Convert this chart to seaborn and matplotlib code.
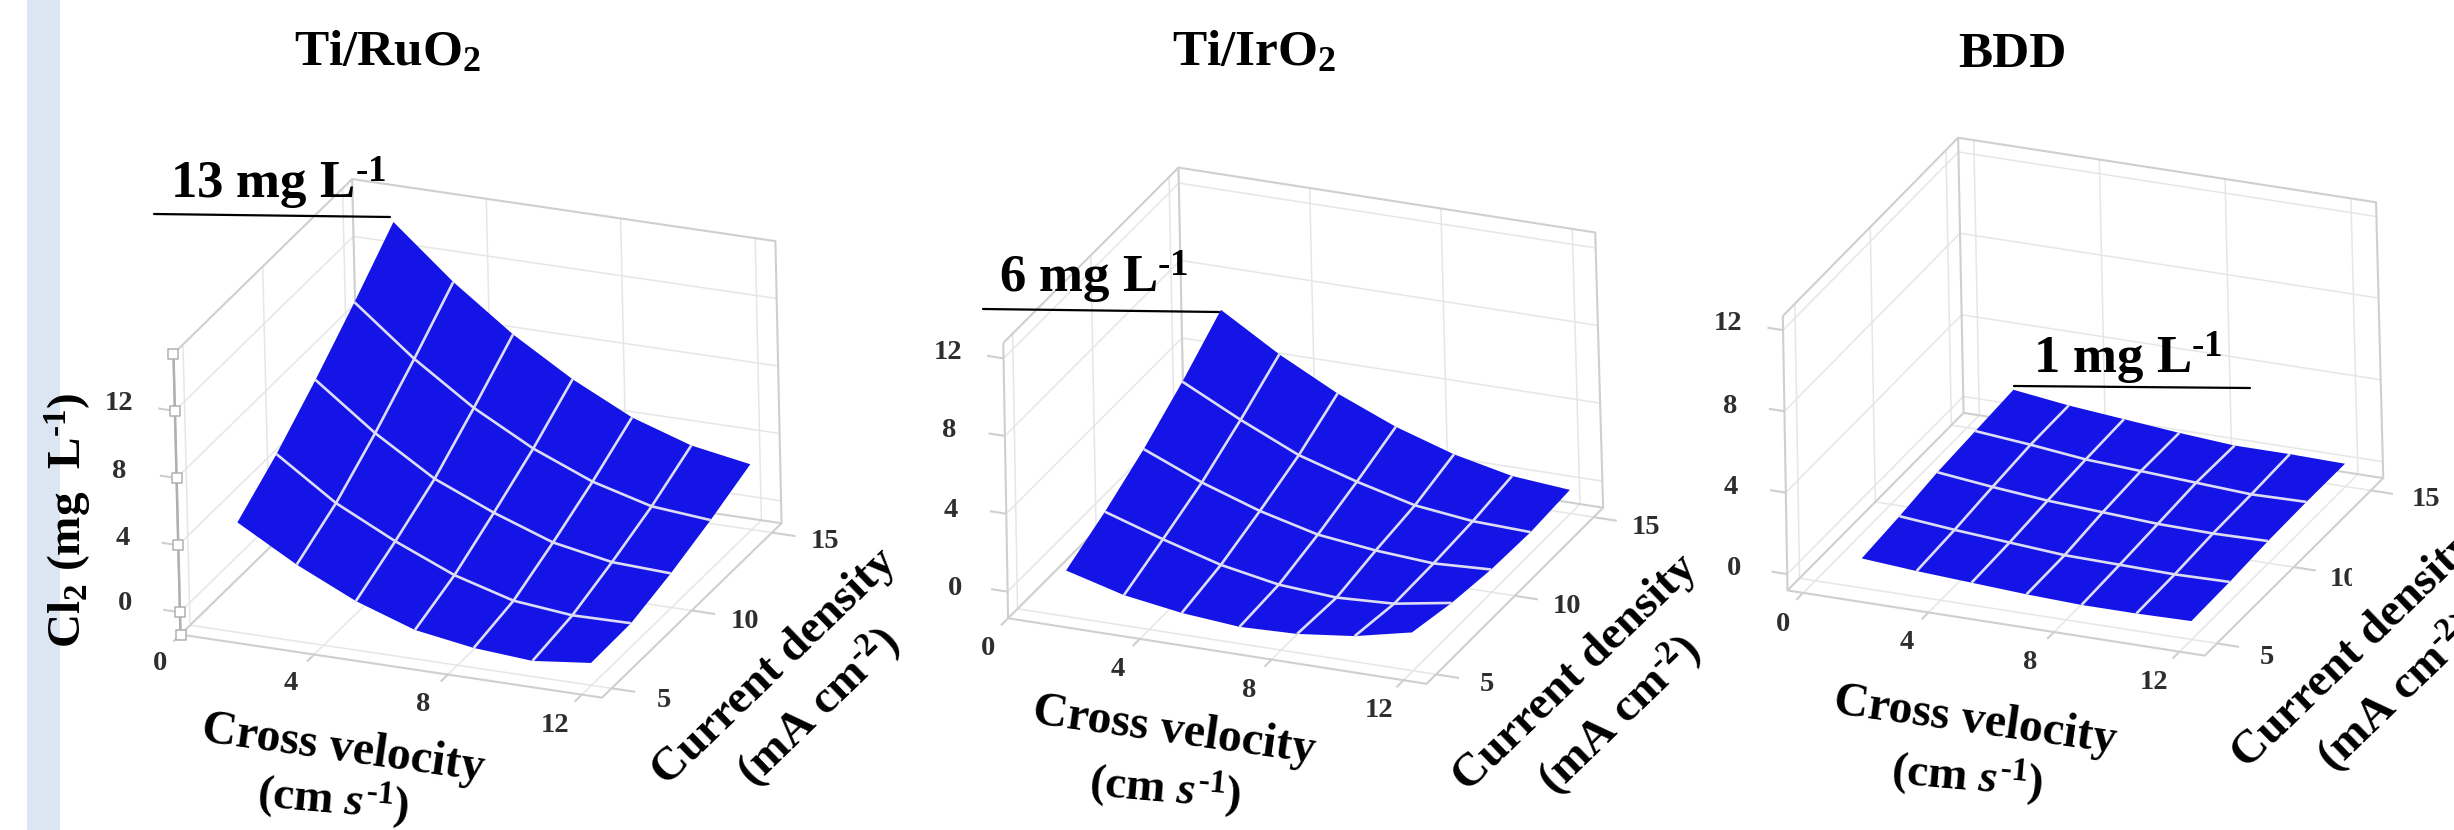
import numpy as np
import matplotlib
matplotlib.use('Agg')
import matplotlib.pyplot as plt
import seaborn as sns
from mpl_toolkits.mplot3d.art3d import Line3DCollection

# ---------- data ----------
velocity = [1.5, 3.25, 5, 6.75, 8.5, 10.25, 12]
current = [5, 7.5, 10, 12.5, 15]

# rows = current density, columns = cross velocity
cl2_ruo2 = [[5.25, 3.25, 1.6, 0.4, -0.15, -0.4, 0.0],
            [7.0, 4.6, 2.85, 1.35, 0.35, 0.0, 0.05],
            [9.1, 6.45, 4.25, 2.75, 1.5, 0.85, 0.7],
            [11.4, 8.55, 6.15, 4.25, 2.8, 1.85, 1.55],
            [13.85, 10.8, 8.2, 6.05, 4.3, 3.15, 2.55]]
cl2_iro2 = [[1.0, 0.2, -0.25, -0.5, -0.4, -0.05, 0.6],
            [2.0, 1.05, 0.2, -0.35, -0.55, -0.4, 0.1],
            [3.2, 1.95, 0.95, 0.2, -0.15, -0.35, -0.2],
            [4.65, 3.15, 1.8, 0.9, 0.15, -0.2, -0.3],
            [6.33, 4.5, 2.95, 1.7, 0.75, 0.1, -0.15]]
cl2_bdd = [[0.65, 0.45, 0.3, 0.15, 0.05, 0.05, 0.1],
           [0.85, 0.6, 0.4, 0.2, 0.15, 0.1, 0.15],
           [1.13, 0.83, 0.58, 0.43, 0.28, 0.23, 0.28],
           [1.27, 1.02, 0.72, 0.57, 0.42, 0.27, 0.32],
           [1.41, 1.06, 0.81, 0.56, 0.36, 0.36, 0.31]]

x_ticks = [0, 4, 8, 12]
y_ticks = [5, 10, 15]
z_ticks = [0, 4, 8, 12]

# ---------- layout ----------
W, H = 2454, 830
BLUE = '#1414e6'
EDGE = '#dcdcf5'
BOX = '#cfcfcf'
GRID = '#e6e6e6'
TICKTXT = '#2e2e2e'

sns.set_theme(style='white', rc={'axes.grid': False})
plt.rcParams['font.family'] = ['Liberation Serif', 'DejaVu Serif']
plt.rcParams['font.weight'] = 'bold'
plt.rcParams['mathtext.fontset'] = 'custom'
plt.rcParams['mathtext.rm'] = 'Liberation Serif:bold'
plt.rcParams['mathtext.bf'] = 'Liberation Serif:bold'
plt.rcParams['mathtext.it'] = 'Liberation Serif:italic:bold'
plt.rcParams['mathtext.default'] = 'rm'

panels = [
    dict(z=cl2_ruo2, title=r'Ti/RuO$_{2}$', title_xy=(388, 53),
         xlim=(0, 12.6), ylim=(4.4, 15.6), zlim=(-1.33, 15.4),
         # box corners in picture pixels: floor front left, top front left, top back left,
         # top back right, floor back right, floor front right, floor back left
         px=[(181, 633), (173, 354), (353, 178), (775, 242), (782, 521), (602, 699), (358, 463)],
         rect=(100, 100), markers=True,
         note=r'13 mg L$^{\text{-1}}$', note_xy=(278, 183), rule=((154, 214), (390, 217)),
         zpos=[(125, 603), (123, 538), (119, 471), (119, 403)],
         xpos=[(160, 663), (291, 683), (423, 704), (555, 725)],
         ypos=[(664, 700), (745, 621), (825, 541)],
         cv=(343, 749), cm=(333, 800), cd=(775, 667), ma=(818, 707)),
    dict(z=cl2_iro2, title=r'Ti/IrO$_{2}$', title_xy=(1254, 53),
         xlim=(0, 12.7), ylim=(4.4, 15.6), zlim=(-1.36, 12.8),
         px=[(1010, 619), (1002, 342), (1180, 168), (1595, 233), (1604, 507), (1426, 684), (1182, 442)],
         rect=(960, 60), markers=False,
         note=r'6 mg L$^{\text{-1}}$', note_xy=(1094, 277), rule=((983, 309), (1219, 312)),
         zpos=[(955, 588), (951, 510), (949, 430), (948, 352)],
         xpos=[(988, 648), (1118, 669), (1249, 690), (1379, 710)],
         ypos=[(1487, 684), (1567, 606), (1646, 527)],
         cv=(1174, 731), cm=(1165, 789), cd=(1576, 673), ma=(1619, 715)),
    dict(z=cl2_bdd, title='BDD', title_xy=(2012, 55),
         xlim=(-0.5, 12.8), ylim=(4.2, 15.8), zlim=(-0.8, 12.7),
         px=[(1789, 591), (1782, 315), (1959, 138), (2376, 203), (2384, 477), (2204, 656), (1962, 413)],
         rect=(1740, 60), markers=False,
         note=r'1 mg L$^{\text{-1}}$', note_xy=(2128, 358), rule=((2014, 386), (2250, 388)),
         zpos=[(1734, 568), (1731, 487), (1730, 406), (1728, 323)],
         xpos=[(1783, 624), (1907, 642), (2030, 662), (2154, 682)],
         ypos=[(2267, 657), (2344, 579), (2426, 499)],
         cv=(1975, 721), cm=(1967, 777), cd=(2355, 650), ma=(2398, 692)),
]


def fit_projection(corners_3d, corners_px):
    # least squares homography, box corners -> display pixels
    rows = []
    for (x, y, z), (u, v) in zip(corners_3d, corners_px):
        u, v = u / 1000, (H - v) / 1000
        p = [x / 10, y / 10, z / 10, 1]
        rows.append(p + [0, 0, 0, 0] + [-u * c for c in p])
        rows.append([0, 0, 0, 0] + p + [-v * c for c in p])
    P = np.linalg.svd(np.array(rows))[2][-1].reshape(3, 4)
    P = P / P[2, 3]
    P = P @ np.diag([0.1, 0.1, 0.1, 1])
    P[:2] *= 1000
    return P


def use_projection(ax, P):
    # mplot3d asks get_proj for its matrix, hand it the fitted one
    # depth has to stay negative or points get masked as behind the camera
    ax.apply_aspect()
    T = ax.transData.inverted().get_matrix()
    P2 = T @ P
    M = np.vstack([P2[0], P2[1], [0.001, 0.05, -0.02, -1.5], P2[2]])
    ax.get_proj = lambda: M


def path(xs, ys, zs):
    return np.column_stack([xs, ys, zs])


fig = plt.figure(figsize=(W / 100, H / 100), dpi=100, facecolor='white')

for p in panels:
    x0, x1 = p['xlim']
    y0, y1 = p['ylim']
    z0, z1 = p['zlim']
    side = 700
    ax = fig.add_axes([p['rect'][0] / W, 1 - (p['rect'][1] + side) / H, side / W, side / H],
                      projection='3d', computed_zorder=False)
    ax.set_axis_off()
    ax.patch.set_visible(False)

    corners = [(x0, y0, z0), (x0, y0, z1), (x0, y1, z1), (x1, y1, z1),
               (x1, y1, z0), (x1, y0, z0), (x0, y1, z0)]
    use_projection(ax, fit_projection(corners, p['px']))

    # grid on the three walls
    grid_lines = []
    for t in x_ticks:
        grid_lines.append(path([t, t, t], [y0, y1, y1], [z0, z0, z1]))
    for t in y_ticks:
        grid_lines.append(path([x1, x0, x0], [t, t, t], [z0, z0, z1]))
    for t in z_ticks:
        grid_lines.append(path([x0, x0, x1], [y0, y1, y1], [t, t, t]))
    ax.add_collection3d(Line3DCollection(grid_lines, colors=GRID, linewidths=1.1, zorder=1), autolim=False)

    # box outline and tick marks
    box_lines = [path([x0, x0, x1, x1, x0], [y0, y1, y1, y1, y1], [z1, z1, z1, z0, z0]),
                 path([x0, x0], [y1, y1], [z0, z1]),
                 path([x0, x0, x1, x1], [y0, y0, y0, y1], [z1, z0, z0, z0]),
                 path([x0, x0], [y0, y1], [z0, z0])]
    for t in x_ticks:
        if x0 <= t <= x1:
            box_lines.append(path([t, t], [y0, y0 - 0.45], [z0, z0]))
    for t in y_ticks:
        box_lines.append(path([x1, x1 + 0.7], [t, t], [z0, z0]))
    for t in z_ticks:
        box_lines.append(path([x0, x0 - 0.5], [y0, y0], [t, t]))
    ax.add_collection3d(Line3DCollection(box_lines, colors=BOX, linewidths=1.5, zorder=2), autolim=False)

    if p['markers']:
        # first panel still has its z axis selected, darker line and handles
        zs = [z0] + z_ticks + [z1]
        ax.add_collection3d(Line3DCollection([path([x0, x0], [y0, y0], [z0, z1])], colors='#b0b0b0',
                                             linewidths=1.8, zorder=3), autolim=False)
        ax.scatter([x0] * len(zs), [y0] * len(zs), zs, marker='s', s=42, facecolor='white',
                   edgecolor='#b0b0b0', linewidth=1.1, depthshade=False, zorder=4)

    X, Y = np.meshgrid(velocity, current)
    Z = np.array(p['z'])
    ax.plot_surface(X, Y, Z, color=BLUE, shade=False, edgecolor='none', linewidth=0,
                    antialiased=True, zorder=5)
    # only the inner mesh lines are light, the outer rim stays blue
    mesh = [path(X[j], Y[j], Z[j]) for j in range(1, len(current) - 1)]
    mesh += [path(X[:, i], Y[:, i], Z[:, i]) for i in range(1, len(velocity) - 1)]
    ax.add_collection3d(Line3DCollection(mesh, colors=EDGE, linewidths=1.9, zorder=6), autolim=False)

# everything else sits on a transparent layer in picture pixels
top = fig.add_axes([0, 0, 1, 1])
top.patch.set_visible(False)

for p in panels:
    (a, b), (c, d) = p['rule']
    sns.lineplot(x=[a, c], y=[b, d], ax=top, color='black', lw=1.6, sort=False,
                 estimator=None, legend=False, zorder=6)
    top.text(*p['title_xy'], p['title'], fontsize=37, ha='center', va='center', color='black')
    top.text(*p['note_xy'], p['note'], fontsize=38, ha='center', va='center', color='black')
    for t, (u, v) in zip(z_ticks, p['zpos']):
        top.text(u, v, str(t), fontsize=20.5, ha='center', va='center', color=TICKTXT)
    for t, (u, v) in zip(x_ticks, p['xpos']):
        top.text(u, v, str(t), fontsize=20.5, ha='center', va='center', color=TICKTXT)
    for t, (u, v) in zip(y_ticks, p['ypos']):
        top.text(u, v, str(t), fontsize=20.5, ha='center', va='center', color=TICKTXT)
    top.text(*p['cv'], 'Cross velocity', fontsize=34.5, rotation=-8, ha='center', va='center', color='black')
    top.text(*p['cm'], r'(cm $\mathit{s}^{\text{-1}}$)', fontsize=34, rotation=-5, ha='center', va='center', color='black')
    top.text(*p['cd'], 'Current density', fontsize=34, rotation=44, ha='center', va='center', color='black')
    top.text(*p['ma'], r'(mA cm$^{\text{-2}}$)', fontsize=34, rotation=44, ha='center', va='center', color='black')

top.text(69, 520, r'Cl$_{2}$ (mg  L$^{\text{-1}}$)', fontsize=34, rotation=90, ha='center', va='center', color='black')

# pale strip down the left edge
top.axvspan(27, 60, color='#dce6f2', lw=0, zorder=0)
# the 10 of the last panel is cut in the source image
top.fill_between([2352, 2376], 560, 600, color='white', lw=0, zorder=3)

top.set_xlim(0, W)
top.set_ylim(H, 0)
top.set_axis_off()

plt.savefig('out.png', dpi=100)
plt.close()
